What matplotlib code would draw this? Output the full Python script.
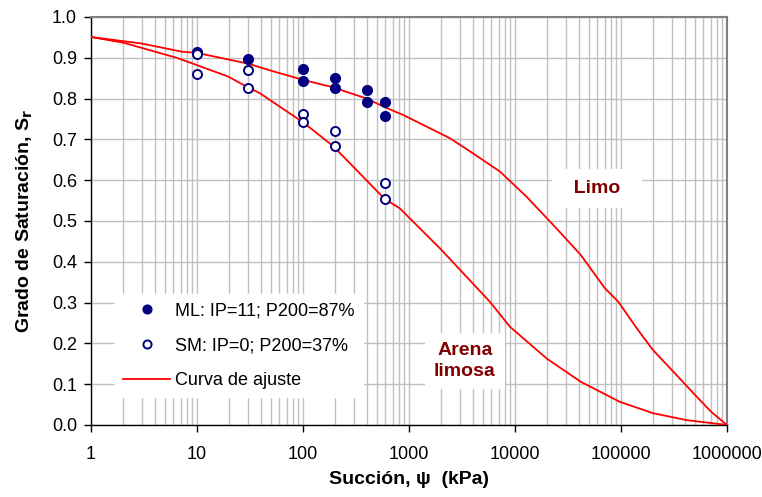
import matplotlib
matplotlib.use("Agg")
import matplotlib.pyplot as plt
from matplotlib.ticker import LogLocator, FixedLocator, NullFormatter

plt.rcParams['font.family'] = ['Liberation Sans', 'DejaVu Sans']

# Measured points: ML (limo)
ml_suction = [10, 30, 100, 100, 200, 200, 400, 400, 600, 600]
ml_sr = [0.915, 0.897, 0.872, 0.842, 0.850, 0.825, 0.821, 0.792, 0.792, 0.758]

# Measured points: SM (arena limosa)
sm_suction = [10, 10, 30, 30, 100, 100, 200, 200, 600, 600]
sm_sr = [0.910, 0.860, 0.870, 0.826, 0.763, 0.742, 0.721, 0.684, 0.592, 0.554]

# Fitted curve, limo
limo_suction = [1, 3.0, 7.2, 10, 30, 50.6, 100, 190, 400, 590, 880, 2430, 3600,
                7240, 12800, 24600, 41700, 70600, 94500, 141000, 200000,
                322000, 451000, 705000, 1000000]
limo_sr = [0.951, 0.935, 0.915, 0.912, 0.886, 0.868, 0.846, 0.828, 0.800, 0.779,
           0.760, 0.703, 0.674, 0.621, 0.560, 0.482, 0.417, 0.335, 0.302, 0.237,
           0.184, 0.127, 0.086, 0.033, 0.0]

# Fitted curve, arena limosa
arena_suction = [1, 2.02, 6.44, 10, 19.7, 30, 39.3, 100, 192, 590, 820, 1060,
                 1960, 5800, 8950, 19900, 41700, 97000, 200000, 415000, 1000000]
arena_sr = [0.951, 0.937, 0.900, 0.882, 0.854, 0.828, 0.813, 0.742, 0.684, 0.554,
            0.531, 0.502, 0.433, 0.302, 0.241, 0.163, 0.106, 0.057, 0.029, 0.012, 0.0]

x_ticks = [1, 10, 100, 1000, 10000, 100000, 1000000]
x_tick_labels = ['1', '10', '100', '1000', '10000', '100000', '1000000']
y_ticks = [0.0, 0.1, 0.2, 0.3, 0.4, 0.5, 0.6, 0.7, 0.8, 0.9, 1.0]

navy = '#000080'
curve_red = '#ff0000'
label_red = '#800000'
grid_gray = '#c0c0c0'

fig = plt.figure(figsize=(7.62, 4.97), dpi=100)
ax = fig.add_axes([0.1194, 0.1449, 0.8346, 0.8209])

ax.set_xscale('log')
ax.set_xlim(1, 1000000)
ax.set_ylim(0, 1.0)

ax.xaxis.set_major_locator(FixedLocator(x_ticks))
ax.set_xticklabels(x_tick_labels)
ax.xaxis.set_minor_locator(LogLocator(base=10, subs=range(2, 10), numticks=20))
ax.xaxis.set_minor_formatter(NullFormatter())
ax.set_yticks(y_ticks)
ax.set_yticklabels([f'{v:.1f}' for v in y_ticks])

ax.grid(True, which='both', axis='x', color=grid_gray, linewidth=1.0, zorder=0)
ax.grid(True, which='major', axis='y', color=grid_gray, linewidth=1.0, zorder=0)
ax.set_axisbelow(True)

ax.tick_params(axis='both', which='major', direction='out', length=5, width=1,
               labelsize=13, colors='black')
ax.tick_params(axis='x', which='major', pad=10)
ax.tick_params(axis='y', which='major', pad=5)
ax.tick_params(axis='x', which='minor', length=0)

for side in ['left', 'bottom']:
    ax.spines[side].set_color('black')
    ax.spines[side].set_linewidth(1.0)
for side in ['top', 'right']:
    ax.spines[side].set_color('#808080')
    ax.spines[side].set_linewidth(1.5)

ax.plot(limo_suction, limo_sr, color=curve_red, linewidth=1.3, zorder=3,
        label='Curva de ajuste')
ax.plot(arena_suction, arena_sr, color=curve_red, linewidth=1.3, zorder=3)

ax.plot(ml_suction, ml_sr, linestyle='none', marker='o', markersize=7,
        markerfacecolor=navy, markeredgecolor=navy, zorder=4,
        label='ML: IP=11; P200=87%')
ax.plot(sm_suction, sm_sr, linestyle='none', marker='o', markersize=6.5,
        markerfacecolor='white', markeredgecolor=navy, markeredgewidth=1.4,
        zorder=4, label='SM: IP=0; P200=37%')

handles, labels = ax.get_legend_handles_labels()
order = [1, 2, 0]
leg = ax.legend([handles[i] for i in order], [labels[i] for i in order],
                loc='lower left', bbox_to_anchor=(0.0377, 0.068),
                frameon=True, fancybox=False, edgecolor='white',
                facecolor='white', framealpha=1.0, fontsize=13,
                handlelength=2.6, handletextpad=0.3, labelspacing=1.0,
                borderpad=0.45, borderaxespad=0.0, markerscale=0.9)
leg.set_zorder(5)

ax.text(59400, 0.58, '  Limo  ', color=label_red, fontsize=14,
        fontweight='bold', ha='center', va='center',
        bbox=dict(facecolor='white', edgecolor='none',
                  boxstyle='square,pad=0.55'), zorder=5)
ax.text(3375, 0.157, 'Arena\nlimosa', color=label_red, fontsize=14,
        fontweight='bold', ha='center', va='center', linespacing=1.3,
        bbox=dict(facecolor='white', edgecolor='none',
                  boxstyle='square,pad=0.45'), zorder=5)

ax.set_xlabel('Succión, ψ  (kPa)', fontsize=14, fontweight='bold', labelpad=6)
ax.set_ylabel('Grado de Saturación, S$_\\mathbf{r}$', fontsize=14,
              fontweight='bold', labelpad=12)

fig.savefig('out.png', dpi=100)
